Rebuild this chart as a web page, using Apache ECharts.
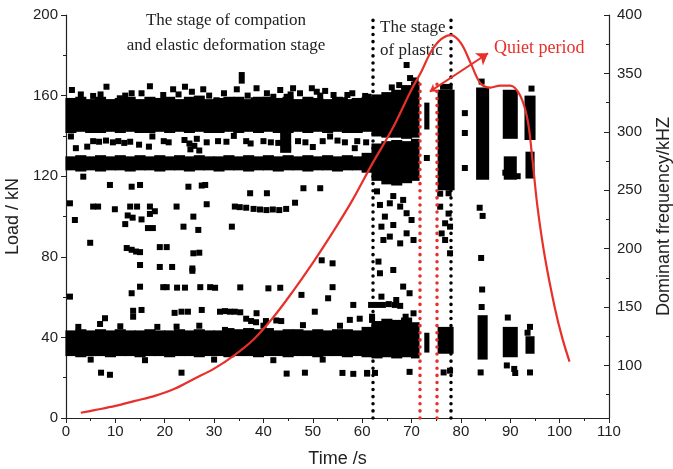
<!DOCTYPE html>
<html><head><meta charset="utf-8">
<script src="https://cdn.jsdelivr.net/npm/echarts@6/dist/echarts.min.js"></script>
<style>html,body{margin:0;padding:0;background:#fff}#c{width:673px;height:469px}</style>
</head><body><div id="c"></div>
<script>
// ---- Data ----
// Load curve (left axis, kN)
var loadTime = [3,6,10,14,18,22,26,30,34,38,42,46,50,54,58,62,66,70,72,74,76,78,80,82,84,86,88,90,92,93.5,94.5,95.5,97,99,100.5,102];
var loadValue = [2.6,4,6,8.5,11,14.5,19.5,24.5,31,39,50,63,77,92,108,126,143,163,172,182,188,190,186,176,166,164,165,165,160,148,128,105,80,55,40,28];

// Dense clusters of acoustic-emission points: [tStart, tEnd, fLow, fHigh] (kHz)
var denseUpper = [[0,2,299,329],[2,4,300,330],[4,6,299,328],[6,8,299,330],[8,10,300,328],[10,12,299,329],[12,14,300,330],[14,16,299,328],[16,18,299,330],[18,20,300,329],[20,22,299,330],[22,24,300,328],[24,26,299,330],[26,28,300,331],[28,30,299,328],[30,32,299,329],[32,34,300,330],[34,36,299,330],[36,38,300,328],[38,40,299,330],[40,42,300,330],[42,44,299,329],[44,46,299,330],[46,48,300,328],[48,50,299,330],[50,52,300,329],[52,54,299,328],[54,56,300,330],[56,58,299,328],[58,60,299,329],[60,62,300,330],[62,64,296,332],[64,66,295,334],[66,68,295,336],[68,70,294,340],[70,71.5,295,343]];
var denseMiddle = [[0,2,267,279],[2,4,266,280],[4,6,267,279],[6,8,266,280],[8,10,267,279],[10,12,267,280],[12,14,266,279],[14,16,267,280],[16,18,267,279],[18,20,266,280],[20,22,267,279],[22,24,267,280],[24,26,266,279],[26,28,267,280],[28,30,267,279],[30,32,266,279],[32,34,267,280],[34,36,267,279],[36,38,266,280],[38,40,267,279],[40,42,267,280],[42,44,266,279],[44,46,267,280],[46,48,267,279],[48,50,266,280],[50,52,267,279],[52,54,267,280],[54,56,266,279],[56,58,267,280],[58,60,267,279],[60,62,265,282],[62,64,258,290],[64,66,255,292],[66,68,254,293],[68,70,256,292],[70,71.5,258,294],[43.5,45.5,282,299]];
var denseLower = [[0,2,108,130],[2,4,107,131],[4,6,108,130],[6,8,108,131],[8,10,107,130],[10,12,108,131],[12,14,108,130],[14,16,107,130],[16,18,108,131],[18,20,108,130],[20,22,107,130],[22,24,108,131],[24,26,108,130],[26,28,107,131],[28,30,108,130],[30,32,108,130],[32,34,107,132],[34,36,108,131],[36,38,108,132],[38,40,107,131],[40,42,108,132],[42,44,108,130],[44,46,107,131],[46,48,108,131],[48,50,108,130],[50,52,107,131],[52,54,108,130],[54,56,108,131],[56,58,107,131],[58,60,108,130],[60,62,107,133],[62,64,106,138],[64,66,107,140],[66,68,106,139],[68,70,107,141],[70,71.5,106,137]];
var denseLate = [[72.7,73.5,302,325],[72.7,73.5,111,128],[75.4,78.6,250,336],[75.9,78.2,336,341],[75.4,78.4,110,133],[83.2,85.6,259,338],[83.5,85.3,105,143],[88.6,91.4,294,336],[88.8,91.2,259,279],[88.6,91.4,107,133],[93,95,293,331],[93.2,94.8,260,283],[93.2,94.8,110,125]];

// Individual points: [time s, frequency kHz]
var pointsUpper = [[1.2,335.8],[8.2,338.6],[17,339],[13.3,333],[21.7,336.4],[24.1,338.6],[25.5,334.3],[27.8,336.4],[35.6,348.6],[35.6,343.8],[34.6,336.4],[38.6,337.3],[40.7,333],[43.4,335.8],[46,337.3],[47.4,333],[49.8,337.3],[50.8,334.3],[54.2,331.5],[56.5,327],[60.6,330.7],[5.5,330.7],[10.9,328.7],[15.3,333],[19.7,331.5],[30.5,327],[38,327],[42,330],[44.7,330],[3,332],[32,333],[58,333],[52.5,335],[7,332],[12,331],[22.8,332],[29,331],[36.8,331],[45.5,332],[51.5,331],[57,331.5]];
var pointsBetween = [[5.5,292],[6.7,291.5],[8.1,292.5],[9.5,291],[10.6,292],[11.8,290.5],[13,291.5],[14.8,289],[19.8,292],[20.8,291],[24,293],[25,290],[26,288],[26.5,294],[28.5,291],[30.8,292],[32.5,291.5],[36.5,292],[37.4,290],[40,292],[41.5,291],[43,290.5],[47,292],[48.5,291],[52,292],[55,292.5],[56.5,291],[59,292],[60.8,291],[4.3,287.3],[16.8,287.3],[2,286],[25.2,285],[27,284],[45,286],[50,287],[58.5,286],[1,296],[17.5,296],[34,296.5],[53.5,296]];
var pointsScatter = [[3.5,261.6],[8.9,254.5],[13.3,253],[15,254.5],[24.8,253],[27.5,254],[28.2,254.5],[37.3,247.4],[40.7,247.4],[48.1,251.7],[51.5,251.7],
[0.8,238.8],[5.5,236],[6.5,236],[9.9,233.7],[13,236],[14.4,236],[17,236],[22.4,236],[28.5,238],[34.2,236],[35.2,235.5],[36.5,235],[38,234],[39.3,233.5],[40.6,233],[41.9,233.5],[43.2,233],[44.6,234],[46.4,239.3],
[1.8,224.5],[12.5,228.4],[13.5,226.5],[15.3,225],[17,229.7],[18,232],[25.8,227.4],[12,221],[16.6,217.6],[17.6,217.6],[23.8,218.8],[26.8,216],[33.6,218.8],
[4.9,205],[12.3,200.5],[13.3,199],[14.2,197.5],[15,197],[19,201.3],[20.4,201.3],[25.8,196],[27,196.5],
[15,186],[19,184.3],[21.5,184.3],[25.6,183],[25.6,181],[15,167.4],[13.3,161.8],[19.7,167],[20.4,167],[22.5,166.6],[24.1,166.6],[27.2,167],[29.2,167],[30.2,166.5],[35.3,166.8],[41,166],[43.4,166.5],[47.7,160.4],[53.1,157.5],[54,167],[54,187.4],[51.8,190],[58.2,151.8],[50.4,146],[0.8,158.9],
[13.6,146.8],[15.3,147.5],[13.6,141.7],[7.9,140.4],[6.9,135.5],[22,145],[23.4,146],[24.7,146],[27.5,147.5],[22.4,133.2],[32.2,130.4],
[31.2,146],[32.2,146.5],[33.2,146],[34.2,146],[35.3,145.5],[36.5,140],[37.5,138],[38.5,137],[38.6,144.7],[40.5,138],[42.6,138.5],[43.6,138],[57.5,139],[59.5,140],[62,139],
[7.1,93.8],[8.9,92],[23.4,93.8],[44.7,93],[48.4,93.8],[56,93.6],[58.2,92.8],[61,93],
[2.5,133],[11,133.5],[18.5,133],[27,134],[40,134],[48,134.5],[55.5,134],[5,105],[16,104.5],[30,105],[42,104.5],[52,105]];
var pointsPlastic = [[63.6,237.4],[65.6,238.8],[67.7,236],[69,230.3],[70,224.5],[64.6,227.4],[63.9,218.8],[66.3,220.2],[69,213.1],[70.4,207.4],[67.7,204.5],[65.6,210.3],[64.3,207.4],[68.3,241.7],[66.3,245],[63,249],
[63.3,188.9],[66.3,181.7],[63.6,178.9],[68.3,167.5],[69.6,161.8],[63.9,158.9],[66.9,156],[61.8,151.8],[63,151.8],[64.2,151.8],[65.4,152.5],[66.6,151.8],[67.7,151],[70.4,144.6],[68.8,141.7],[62,141.7],[61,93.6],[62.6,93.6],[69.6,94.5],
[69,357.2],[69.7,346],[70.8,344],[67.5,340],[66,338],[61.3,330]];
var pointsLate = [[73.1,277.6],[75.8,247],[77.5,247.4],[75.8,235.9],[77.5,230],[76.8,221.7],[77.8,218.8],[76.8,207.4],[77.8,196],[76.1,213],[76.5,94],[77.8,95.5],
[80.8,316],[80.8,299],[80.8,269],[84.2,343],[83.8,235],[84.4,228],[84.1,192],[84.3,165],[84.2,150],[84,94],
[89.5,141],[89.3,100],[90.8,97],[91,93.5],[89,265],[91.5,262],[94.3,337],[94,133],[94,94],[93.5,128]];

// Stage boundaries (s) and annotation anchors
var stageLines = [62.2, 78];
var quietLines = [71.6, 75.1];
var arrowFrom = [73.7, 162];
var arrowTo = [85.5, 181];

var xTicks = {min:0, max:110, interval:10};
var loadTicks = {min:0, max:200, interval:40};
var freqMajor = [100,150,200,250,300,350,400];
var freqMinor = [75,125,175,225,275,325,375];

// ---- Chart ----
var chart = echarts.init(document.getElementById('c'), null, {renderer:'canvas'});
var axisText = {color:'#222', fontSize:15, fontFamily:'Liberation Sans, Arial, sans-serif'};
var nameText = {color:'#222', fontSize:18, fontFamily:'Liberation Sans, Arial, sans-serif'};
var black = {lineStyle:{color:'#222', width:1.2}};

function rectItem(params, api) {
  var p0 = api.coord([api.value(0), api.value(3)]);
  var p1 = api.coord([api.value(1), api.value(2)]);
  return {type:'rect', shape:{x:p0[0]-0.6, y:p0[1], width:p1[0]-p0[0]+1.2, height:p1[1]-p0[1]}, style:{fill:'#000'}};
}
function bandSeries(d) {
  return {type:'custom', xAxisIndex:0, yAxisIndex:1, renderItem:rectItem, data:d, encode:{x:[0,1], y:[2,3]}, silent:true, z:2};
}
function ptSeries(d) {
  return {type:'scatter', xAxisIndex:0, yAxisIndex:1, data:d, symbol:'rect', symbolSize:6, itemStyle:{color:'#000', opacity:1}, silent:true, z:2};
}
var dotStyle = function(c){ return {color:c, width:3.5, type:[0.1,7], cap:'round'}; };

var lineData = loadTime.map(function(t,i){return [t, loadValue[i]];});
var serif = '17px "Liberation Serif", "Times New Roman", serif';

var option = {
  animation:false,
  backgroundColor:'#fff',
  grid:{left:66, right:64, top:15, bottom:51, outerBoundsMode:'none', containLabel:false},
  xAxis:{type:'value', min:xTicks.min, max:xTicks.max, interval:xTicks.interval,
    name:'Time /s', nameLocation:'middle', nameGap:32, nameTextStyle:nameText,
    axisLine:black, axisTick:{length:5, lineStyle:{color:'#222'}},
    minorTick:{show:true, splitNumber:2, length:3, lineStyle:{color:'#222'}},
    axisLabel:Object.assign({margin:6}, axisText), splitLine:{show:false}},
  yAxis:[
    {type:'value', position:'left', min:loadTicks.min, max:loadTicks.max, interval:loadTicks.interval,
     name:'Load / kN', nameLocation:'middle', nameGap:43, nameTextStyle:nameText,
     axisLine:{show:true, lineStyle:{color:'#222', width:1.2}}, axisTick:{show:true, length:5, lineStyle:{color:'#222'}},
     minorTick:{show:true, splitNumber:2, length:3, lineStyle:{color:'#222'}},
     axisLabel:Object.assign({margin:8}, axisText), splitLine:{show:false}},
    {type:'value', position:'right', min:55, max:400,
     name:'Dominant frequency/kHZ', nameLocation:'middle', nameGap:46, nameRotate:90, nameTextStyle:nameText,
     axisLine:{show:true, lineStyle:{color:'#222', width:1.2}},
     axisTick:{show:true, inside:true, length:5, customValues:freqMajor, lineStyle:{color:'#222'}},
     axisLabel:Object.assign({margin:8, customValues:freqMajor}, axisText), splitLine:{show:false}},
    {type:'value', position:'right', min:55, max:400,
     axisLine:{show:false}, axisLabel:{show:false},
     axisTick:{show:true, inside:true, length:3, customValues:freqMinor, lineStyle:{color:'#222'}}, splitLine:{show:false}}
  ],
  series:[
    bandSeries(denseUpper), bandSeries(denseMiddle), bandSeries(denseLower), bandSeries(denseLate),
    ptSeries(pointsUpper), ptSeries(pointsBetween), ptSeries(pointsScatter), ptSeries(pointsPlastic), ptSeries(pointsLate),
    {type:'line', xAxisIndex:0, yAxisIndex:0, data:lineData, smooth:0.35, showSymbol:false, silent:true, z:5,
     lineStyle:{color:'#e8302a', width:2.2},
     markLine:{silent:true, symbol:'none', label:{show:false}, animation:false,
       data: stageLines.map(function(t){return [{coord:[t,0], lineStyle:dotStyle('#000')},{coord:[t,198]}];})
        .concat(quietLines.map(function(t){return [{coord:[t,0], lineStyle:dotStyle('#e8302a')},{coord:[t,167]}];}))
     }},
    {type:'line', xAxisIndex:0, yAxisIndex:0, data:[], silent:true, z:6,
     markLine:{silent:true, label:{show:false}, animation:false, lineStyle:{color:'#e8302a', width:2, type:'solid'},
       data:[[{coord:arrowFrom, symbol:'arrow', symbolSize:7},{coord:arrowTo, symbol:'arrow', symbolSize:11}]]}}
  ],
  graphic:[
    {type:'text', style:{text:'The stage of compation', x:226, y:21, align:'center', verticalAlign:'middle', font:serif, fill:'#222'}},
    {type:'text', style:{text:'and elastic deformation stage', x:226, y:46, align:'center', verticalAlign:'middle', font:serif, fill:'#222'}},
    {type:'text', style:{text:'The stage', x:380, y:28, align:'left', verticalAlign:'middle', font:serif, fill:'#222'}},
    {type:'text', style:{text:'of plastic', x:380, y:51, align:'left', verticalAlign:'middle', font:serif, fill:'#222'}},
    {type:'text', style:{text:'Quiet period', x:494, y:48, align:'left', verticalAlign:'middle', font:'18px "Liberation Serif", "Times New Roman", serif', fill:'#e8302a'}}
  ]
};
chart.setOption(option);
</script></body></html>
